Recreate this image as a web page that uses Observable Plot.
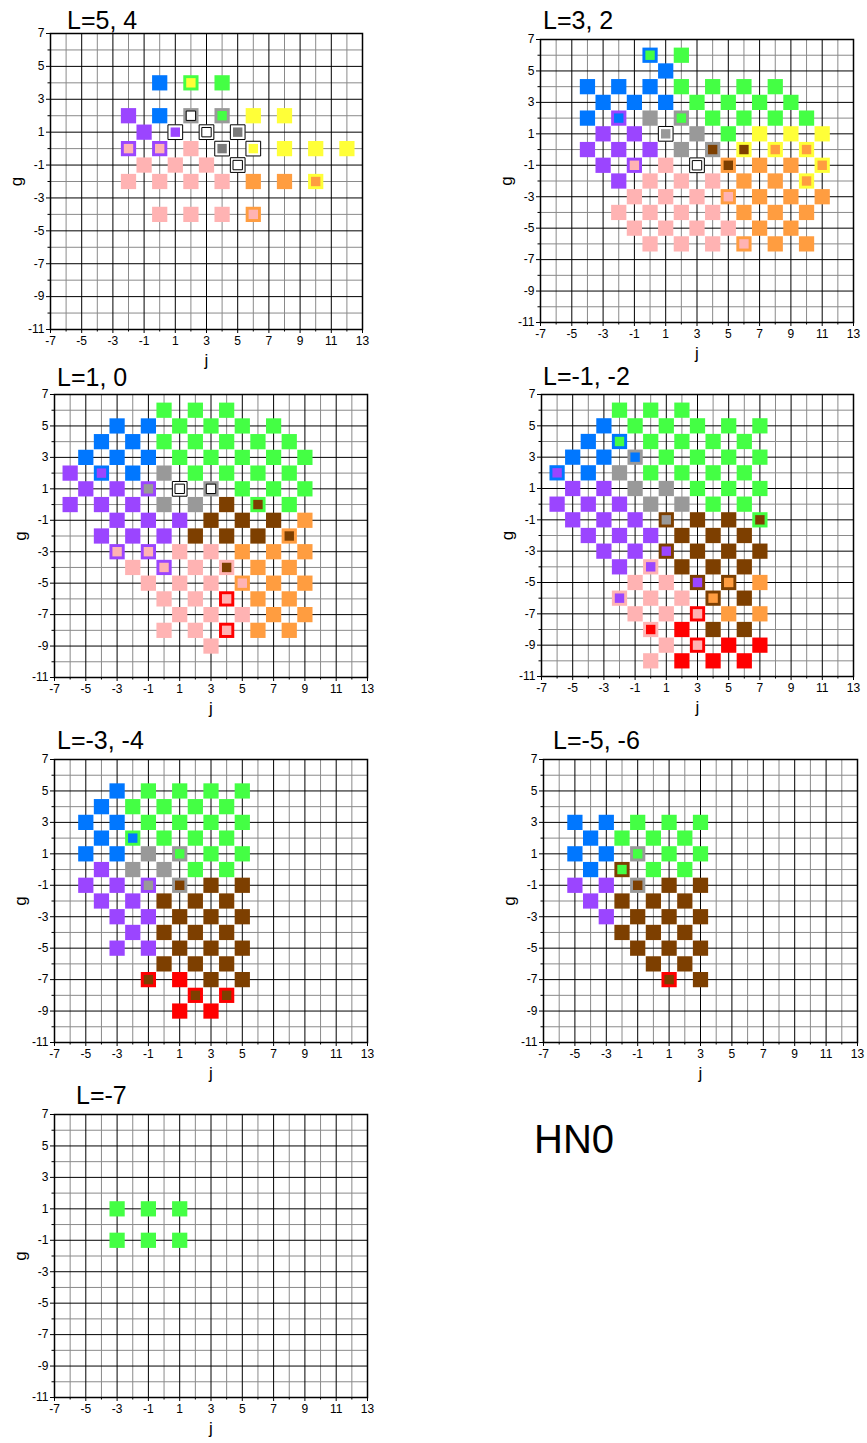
<!DOCTYPE html>
<html><head><meta charset="utf-8">
<script src="https://cdn.jsdelivr.net/npm/d3@7"></script>
<script src="https://cdn.jsdelivr.net/npm/@observablehq/plot@0.6"></script>
<style>
body{margin:0;background:#fff;}
#wrap{position:relative;width:867px;height:1443px;font-family:"Liberation Sans",Arial,sans-serif;overflow:hidden;}
.panel{position:absolute;}
.title{position:absolute;font-size:25px;line-height:1;white-space:nowrap;color:#000;}
.big{position:absolute;font-size:40px;line-height:1;white-space:nowrap;color:#000;}
</style></head><body><div id="wrap"></div>
<script>
// ---- tick values ----
const jMajor = [-7,-5,-3,-1,1,3,5,7,9,11,13];
const jMinor = [-6,-4,-2,0,2,4,6,8,10,12];
const gMajor = [-11,-9,-7,-5,-3,-1,1,3,5,7];
const gMinor = [-10,-8,-6,-4,-2,0,2,4,6];

// ---- color categories ----
const colorCodes  = ["B","G","P","K","Y","O","A","D","N","R","W"];
const colorValues = ["#0077ff","#44ff44","#9b45ff","#ffb3b3","#ffff38","#ff9d40","#999999","#7a7a7a","#7d3f00","#ff0000","#ffffff"];

// ---- cells: [j, g, outer, inner] ----
const cellsL54 = [
 [0,4,"B"],[2,4,"G","Y"],[4,4,"G"],
 [-2,2,"P"],[0,2,"B"],[2,2,"A","W"],[4,2,"A","G"],[6,2,"Y"],[8,2,"Y"],
 [-1,1,"P"],[1,1,"W","P"],[3,1,"W","W"],[5,1,"W","D"],
 [-2,0,"P","K"],[0,0,"P","K"],[2,0,"K"],[4,0,"W","D"],[6,0,"W","Y"],[8,0,"Y"],[10,0,"Y"],[12,0,"Y"],
 [-1,-1,"K"],[1,-1,"K"],[3,-1,"K"],[5,-1,"W","W"],
 [-2,-2,"K"],[0,-2,"K"],[2,-2,"K"],[4,-2,"K"],[6,-2,"O"],[8,-2,"O"],[10,-2,"Y","O"],
 [0,-4,"K"],[2,-4,"K"],[4,-4,"K"],[6,-4,"O","K"]
];
const cellsL32 = [
 [0,6,"B","G"],[2,6,"G"],
 [1,5,"B"],
 [-4,4,"B"],[-2,4,"B"],[0,4,"B"],[2,4,"G"],[4,4,"G"],[6,4,"G"],[8,4,"G"],
 [-3,3,"B"],[-1,3,"B"],[1,3,"B"],[3,3,"G"],[5,3,"G"],[7,3,"G"],[9,3,"G"],
 [-4,2,"B"],[-2,2,"P","B"],[0,2,"A"],[2,2,"A","G"],[4,2,"G"],[6,2,"G"],[8,2,"G"],[10,2,"G"],
 [-3,1,"P"],[-1,1,"P"],[1,1,"W","A"],[3,1,"A"],[5,1,"G"],[7,1,"Y"],[9,1,"Y"],[11,1,"Y"],
 [-4,0,"P"],[-2,0,"P"],[0,0,"P"],[2,0,"A"],[4,0,"A","N"],[6,0,"Y","N"],[8,0,"Y","O"],[10,0,"Y","O"],
 [-3,-1,"P"],[-1,-1,"P","K"],[1,-1,"K"],[3,-1,"W","W"],[5,-1,"O","N"],[7,-1,"O"],[9,-1,"O"],[11,-1,"Y","O"],
 [-2,-2,"P"],[0,-2,"K"],[2,-2,"K"],[4,-2,"K"],[6,-2,"O"],[8,-2,"O"],[10,-2,"Y","O"],
 [-1,-3,"K"],[1,-3,"K"],[3,-3,"K"],[5,-3,"O","K"],[7,-3,"O"],[9,-3,"O"],[11,-3,"O"],
 [-2,-4,"K"],[0,-4,"K"],[2,-4,"K"],[4,-4,"K"],[6,-4,"O"],[8,-4,"O"],[10,-4,"O"],
 [-1,-5,"K"],[1,-5,"K"],[3,-5,"K"],[5,-5,"K"],[7,-5,"O"],[9,-5,"O"],
 [0,-6,"K"],[2,-6,"K"],[4,-6,"K"],[6,-6,"O","K"],[8,-6,"O"],[10,-6,"O"]
];
const cellsL10 = [
 [0,6,"G"],[2,6,"G"],[4,6,"G"],
 [-3,5,"B"],[-1,5,"B"],[1,5,"G"],[3,5,"G"],[5,5,"G"],[7,5,"G"],
 [-4,4,"B"],[-2,4,"B"],[0,4,"G"],[2,4,"G"],[4,4,"G"],[6,4,"G"],[8,4,"G"],
 [-5,3,"B"],[-3,3,"B"],[-1,3,"B"],[1,3,"G"],[3,3,"G"],[5,3,"G"],[7,3,"G"],[9,3,"G"],
 [-6,2,"P"],[-4,2,"B","P"],[-2,2,"B"],[0,2,"A"],[2,2,"G"],[4,2,"G"],[6,2,"G"],[8,2,"G"],
 [-5,1,"P"],[-3,1,"P"],[-1,1,"P","A"],[1,1,"W","W"],[3,1,"A","W"],[5,1,"G"],[7,1,"G"],[9,1,"G"],
 [-6,0,"P"],[-4,0,"P"],[-2,0,"P"],[0,0,"A"],[2,0,"A"],[4,0,"N"],[6,0,"G","N"],[8,0,"G"],
 [-3,-1,"P"],[-1,-1,"P"],[1,-1,"P"],[3,-1,"N"],[5,-1,"N"],[7,-1,"N"],[9,-1,"O"],
 [-4,-2,"P"],[-2,-2,"P"],[0,-2,"P"],[2,-2,"N"],[4,-2,"N"],[6,-2,"N"],[8,-2,"O","N"],
 [-3,-3,"P","K"],[-1,-3,"P","K"],[1,-3,"K"],[3,-3,"K"],[5,-3,"O"],[7,-3,"O"],[9,-3,"O"],
 [-2,-4,"K"],[0,-4,"P","K"],[2,-4,"K"],[4,-4,"K","N"],[6,-4,"O"],[8,-4,"O"],
 [-1,-5,"K"],[1,-5,"K"],[3,-5,"K"],[5,-5,"O","K"],[7,-5,"O"],[9,-5,"O"],
 [0,-6,"K"],[2,-6,"K"],[4,-6,"R","K"],[6,-6,"O"],[8,-6,"O"],
 [1,-7,"K"],[3,-7,"K"],[5,-7,"K"],[7,-7,"O"],[9,-7,"O"],
 [0,-8,"K"],[2,-8,"K"],[4,-8,"R","K"],[6,-8,"O"],[8,-8,"O"],
 [3,-9,"K"]
];
const cellsLm1m2 = [
 [-2,6,"G"],[0,6,"G"],[2,6,"G"],
 [-3,5,"B"],[-1,5,"G"],[1,5,"G"],[3,5,"G"],[5,5,"G"],[7,5,"G"],
 [-4,4,"B"],[-2,4,"B","G"],[0,4,"G"],[2,4,"G"],[4,4,"G"],[6,4,"G"],
 [-5,3,"B"],[-3,3,"B"],[-1,3,"A","B"],[1,3,"G"],[3,3,"G"],[5,3,"G"],[7,3,"G"],
 [-6,2,"B","P"],[-4,2,"B"],[-2,2,"A"],[0,2,"G"],[2,2,"G"],[4,2,"G"],[6,2,"G"],
 [-5,1,"P"],[-3,1,"P"],[-1,1,"A"],[1,1,"A"],[3,1,"G"],[5,1,"G"],[7,1,"G"],
 [-6,0,"P"],[-4,0,"P"],[-2,0,"P"],[0,0,"A"],[2,0,"A"],[4,0,"G"],[6,0,"G"],
 [-5,-1,"P"],[-3,-1,"P"],[-1,-1,"P"],[1,-1,"N","A"],[3,-1,"N"],[5,-1,"N"],[7,-1,"G","N"],
 [-4,-2,"P"],[-2,-2,"P"],[0,-2,"P"],[2,-2,"N"],[4,-2,"N"],[6,-2,"N"],
 [-3,-3,"P"],[-1,-3,"P"],[1,-3,"N","P"],[3,-3,"N"],[5,-3,"N"],[7,-3,"N"],
 [-2,-4,"P"],[0,-4,"K","P"],[2,-4,"N"],[4,-4,"N"],[6,-4,"N"],
 [-1,-5,"K"],[1,-5,"K"],[3,-5,"N","P"],[5,-5,"N","O"],[7,-5,"O"],
 [-2,-6,"K","P"],[0,-6,"K"],[2,-6,"K"],[4,-6,"N","O"],[6,-6,"N"],
 [-1,-7,"K"],[1,-7,"K"],[3,-7,"R","K"],[5,-7,"O"],[7,-7,"O"],
 [0,-8,"K","R"],[2,-8,"R"],[4,-8,"N"],[6,-8,"N"],
 [1,-9,"K"],[3,-9,"R","K"],[5,-9,"R"],[7,-9,"R"],
 [0,-10,"K"],[2,-10,"R"],[4,-10,"R"],[6,-10,"R"]
];
const cellsLm3m4 = [
 [-3,5,"B"],[-1,5,"G"],[1,5,"G"],[3,5,"G"],[5,5,"G"],
 [-4,4,"B"],[-2,4,"G"],[0,4,"G"],[2,4,"G"],[4,4,"G"],
 [-5,3,"B"],[-3,3,"B"],[-1,3,"G"],[1,3,"G"],[3,3,"G"],[5,3,"G"],
 [-4,2,"B"],[-2,2,"G","B"],[0,2,"G"],[2,2,"G"],[4,2,"G"],
 [-5,1,"B"],[-3,1,"B"],[-1,1,"A"],[1,1,"A","G"],[3,1,"G"],[5,1,"G"],
 [-4,0,"P"],[-2,0,"A"],[0,0,"A"],[2,0,"G"],[4,0,"G"],
 [-5,-1,"P"],[-3,-1,"P"],[-1,-1,"P","A"],[1,-1,"A","N"],[3,-1,"N"],[5,-1,"N"],
 [-4,-2,"P"],[-2,-2,"P"],[0,-2,"N"],[2,-2,"N"],[4,-2,"N"],
 [-3,-3,"P"],[-1,-3,"P"],[1,-3,"N"],[3,-3,"N"],[5,-3,"N"],
 [-2,-4,"P"],[0,-4,"N"],[2,-4,"N"],[4,-4,"N"],
 [-3,-5,"P"],[-1,-5,"P"],[1,-5,"N"],[3,-5,"N"],[5,-5,"N"],
 [0,-6,"N"],[2,-6,"N"],[4,-6,"N"],
 [-1,-7,"R","N"],[1,-7,"R"],[3,-7,"N"],[5,-7,"N"],
 [2,-8,"R","N"],[4,-8,"R","N"],
 [1,-9,"R"],[3,-9,"R"]
];
const cellsLm5m6 = [
 [-5,3,"B"],[-3,3,"B"],[-1,3,"G"],[1,3,"G"],[3,3,"G"],
 [-4,2,"B"],[-2,2,"G"],[0,2,"G"],[2,2,"G"],
 [-5,1,"B"],[-3,1,"B"],[-1,1,"A","G"],[1,1,"G"],[3,1,"G"],
 [-4,0,"B"],[-2,0,"N","G"],[0,0,"G"],[2,0,"G"],
 [-5,-1,"P"],[-3,-1,"P"],[-1,-1,"A","N"],[1,-1,"N"],[3,-1,"N"],
 [-4,-2,"P"],[-2,-2,"N"],[0,-2,"N"],[2,-2,"N"],
 [-3,-3,"P"],[-1,-3,"N"],[1,-3,"N"],[3,-3,"N"],
 [-2,-4,"N"],[0,-4,"N"],[2,-4,"N"],
 [-1,-5,"N"],[1,-5,"N"],[3,-5,"N"],
 [0,-6,"N"],[2,-6,"N"],
 [1,-7,"R","N"],[3,-7,"N"]
];
const cellsLm7 = [
 [-3,1,"G"],[-1,1,"G"],[1,1,"G"],
 [-3,-1,"G"],[-1,-1,"G"],[1,-1,"G"]
];

const titles = ["L=5, 4","L=3, 2","L=1, 0","L=-1, -2","L=-3, -4","L=-5, -6","L=-7"];
const panelCells = [cellsL54, cellsL32, cellsL10, cellsLm1m2, cellsLm3m4, cellsLm5m6, cellsLm7];

// ---- layout (pixel frames) ----
const layout = [
 {fx:50,  fy:33,   fw:312, fh:296, tx:67,  ty:28},
 {fx:540, fy:39,   fw:313, fh:283, tx:543, ty:28},
 {fx:54,  fy:394,  fw:313, fh:283, tx:57,  ty:385},
 {fx:541, fy:394,  fw:312, fh:282, tx:543, ty:384},
 {fx:54,  fy:759,  fw:313, fh:283, tx:57,  ty:748},
 {fx:543, fy:759,  fw:314, fh:283, tx:553, ty:748},
 {fx:54,  fy:1114, fw:313, fh:283, tx:76,  ty:1103}
];

const wrap = document.getElementById("wrap");
const ML = 52, MR = 8, MT = 6, MB = 46;
const fontFam = "'Liberation Sans', Arial, sans-serif";
const fmt = d => String(d);

panelCells.forEach((cells, k) => {
  const L = layout[k];
  const data = cells.map(([j, g, o, i]) => ({j, g, o, i}));
  const sq = {x: "j", y: "g", symbol: "square"};
  const plot = Plot.plot({
    width: L.fw + ML + MR, height: L.fh + MT + MB,
    marginLeft: ML, marginRight: MR, marginTop: MT, marginBottom: MB,
    style: {fontFamily: fontFam, background: "transparent", overflow: "visible", color: "#000"},
    x: {domain: [-7, 13], label: null},
    y: {domain: [-11, 7], label: null},
    color: {type: "ordinal", domain: colorCodes, range: colorValues},
    marks: [
      Plot.ruleX(jMinor, {stroke: "#8a8a8a", strokeWidth: 1}),
      Plot.ruleY(gMinor, {stroke: "#8a8a8a", strokeWidth: 1}),
      Plot.ruleX(jMajor, {stroke: "#000", strokeWidth: 1}),
      Plot.ruleY(gMajor, {stroke: "#000", strokeWidth: 1}),
      Plot.dot(data, {...sq, r: 8.6, fill: "o"}),
      Plot.dot(data.filter(d => d.o === "W"), {...sq, r: 8.3, fill: "none", stroke: "#000", strokeWidth: 1}),
      Plot.dot(data.filter(d => d.i), {...sq, r: 5.3, fill: "i"}),
      Plot.dot(data.filter(d => d.i === "W"), {...sq, r: 5.3, fill: "none", stroke: "#000", strokeWidth: 1}),
      Plot.frame({stroke: "#000", strokeWidth: 1.5}),
      Plot.axisX(jMajor, {tickSize: 4, tickPadding: 3, fontSize: 12, tickFormat: fmt, label: null}),
      Plot.axisX(jMinor, {tickSize: 2.5, tickFormat: () => "", label: null}),
      Plot.axisY(gMajor, {tickSize: 4, tickPadding: 2, fontSize: 12, tickFormat: fmt, label: null}),
      Plot.axisY(gMinor, {tickSize: 2.5, tickFormat: () => "", label: null}),
      Plot.text(["j"], {text: d => d, frameAnchor: "bottom", dy: 31, fontSize: 17, textAnchor: "middle", lineAnchor: "middle"}),
      Plot.text(["g"], {text: d => d, frameAnchor: "left", dx: -34, rotate: -90, fontSize: 17, textAnchor: "middle", lineAnchor: "middle"})
    ]
  });
  const div = document.createElement("div");
  div.className = "panel";
  div.style.left = (L.fx - ML) + "px";
  div.style.top = (L.fy - MT) + "px";
  div.appendChild(plot);
  wrap.appendChild(div);

  const t = document.createElement("div");
  t.className = "title";
  t.textContent = titles[k];
  t.style.left = L.tx + "px";
  t.style.top = (L.ty - 20) + "px";
  wrap.appendChild(t);
});

const hn = document.createElement("div");
hn.className = "big";
hn.textContent = "HN0";
hn.style.left = "534px";
hn.style.top = "1119px";
wrap.appendChild(hn);
</script></body></html>
